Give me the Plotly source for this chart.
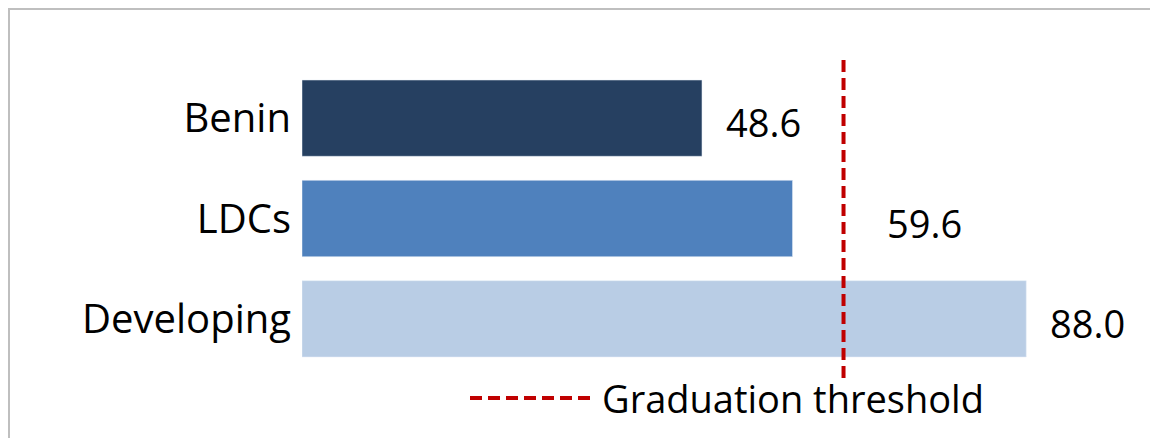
import plotly.graph_objects as go

categories = ["Benin", "LDCs", "Developing"]
values = [48.6, 59.6, 88.0]
colors = ["#264061", "#4F81BD", "#B9CDE5"]
label_shift = [22, 92, 22]
threshold = 65.8

W, H = 1158, 438
ml, mr, mt, mb = 294, 41, 60, 77
pw, ph = W - ml - mr, H - mt - mb

fig = go.Figure()
fig.add_trace(go.Bar(
    x=values, y=categories, orientation="h",
    marker=dict(color=colors), width=0.76, showlegend=False, hoverinfo="x+y",
))

for c, v, s in zip(categories, values, label_shift):
    fig.add_annotation(x=v, y=c, text=f"{v:.1f}", showarrow=False,
                       xanchor="left", xshift=s, yshift=-4,
                       font=dict(size=38, color="black"))

# threshold line
fig.add_shape(type="line", x0=threshold, x1=threshold, xref="x", yref="paper",
              y0=-0.03, y1=1.03, line=dict(color="#C00000", width=4, dash="12px,6px"))

# legend drawn manually
def px(x):
    return (x - ml) / pw

def py(y):
    return (H - mb - y) / ph

fig.add_shape(type="line", xref="paper", yref="paper", x0=px(462), x1=px(582),
              y0=py(390), y1=py(390), line=dict(color="#C00000", width=4, dash="12px,6px"))
fig.add_annotation(xref="paper", yref="paper", x=px(592), y=py(390), text="Graduation threshold",
                   showarrow=False, xanchor="left", yanchor="middle",
                   font=dict(size=38, color="black"))

# outer border
fig.add_shape(type="rect", xref="paper", yref="paper", x0=px(1), x1=px(W - 10),
              y0=py(H - 2), y1=py(1), line=dict(color="#BFBFBF", width=2))

fig.update_layout(
    width=W, height=H, margin=dict(l=ml, r=mr, t=mt, b=mb),
    paper_bgcolor="white", plot_bgcolor="white",
    font=dict(family="Open Sans", size=38, color="black"),
    xaxis=dict(range=[0, 100], visible=False),
    yaxis=dict(autorange="reversed", showgrid=False, showline=False,
               ticks="", tickfont=dict(size=40), ticklabelstandoff=10),
    bargap=0.24,
)

fig.write_html("out.html")
